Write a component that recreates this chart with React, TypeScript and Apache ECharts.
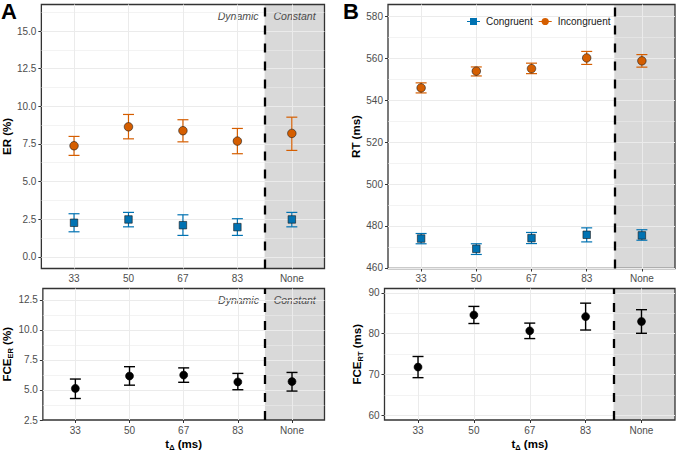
import React, { useEffect, useRef } from 'react';
import * as echarts from 'echarts';

// ---- data ----
const CATEGORIES = ['33', '50', '67', '83', 'None'];
const CAT_POS = [1, 2, 3, 4, 5];
const X_MIN = 0.4;
const X_MAX = 5.6;
const BOUNDARY = 4.5;

const ER_CONG = [2.26, 2.48, 2.1, 1.97, 2.48];
const ER_CONG_LO = [1.66, 1.99, 1.42, 1.42, 1.99];
const ER_CONG_HI = [2.86, 2.95, 2.79, 2.53, 2.95];
const ER_INC = [7.38, 8.64, 8.38, 7.69, 8.2];
const ER_INC_LO = [6.74, 7.84, 7.64, 6.85, 7.07];
const ER_INC_HI = [8.0, 9.46, 9.11, 8.53, 9.28];

const RT_CONG = [474.0, 469.1, 474.2, 475.8, 475.5];
const RT_CONG_LO = [471.5, 466.4, 471.6, 472.4, 473.2];
const RT_CONG_HI = [476.4, 471.5, 476.9, 479.1, 478.2];
const RT_INC = [545.9, 553.9, 555.1, 560.2, 558.8];
const RT_INC_LO = [543.5, 551.6, 552.7, 557.1, 555.8];
const RT_INC_HI = [548.3, 555.9, 557.7, 563.3, 561.8];

const FCE_ER = [5.13, 6.16, 6.24, 5.67, 5.7];
const FCE_ER_LO = [4.29, 5.4, 5.64, 5.02, 4.91];
const FCE_ER_HI = [5.91, 6.94, 6.84, 6.38, 6.46];

const FCE_RT = [71.8, 84.6, 80.7, 84.2, 83.0];
const FCE_RT_LO = [69.2, 82.5, 78.8, 80.9, 80.1];
const FCE_RT_HI = [74.4, 86.7, 82.6, 87.5, 85.9];

const ER_RANGE = [-0.78, 16.77];
const ER_TICKS = [0, 2.5, 5, 7.5, 10, 12.5, 15];
const ER_MINOR = [1.25, 3.75, 6.25, 8.75, 11.25, 13.75, 16.25];
const FCE_ER_RANGE = [2.5, 13.45];
const FCE_ER_TICKS = [2.5, 5, 7.5, 10, 12.5];
const FCE_ER_MINOR = [3.75, 6.25, 8.75, 11.25];
const RT_RANGE = [459.7, 585.7];
const RT_TICKS = [460, 480, 500, 520, 540, 560, 580];
const RT_MINOR = [470, 490, 510, 530, 550, 570];
const FCE_RT_RANGE = [58.8, 91.1];
const FCE_RT_TICKS = [60, 70, 80, 90];
const FCE_RT_MINOR = [65, 75, 85];

// ---- style ----
const FONT = 'Liberation Sans, Arial, Helvetica, sans-serif';
const BLUE = '#0072B2';
const ORANGE = '#D55E00';
const GRID_LINE = '#EBEBEB';
const SHADE = '#D9D9D9';
const TICK_COLOR = '#4D4D4D';

const LAYOUT = [
  { left: 38.5, top: 4.5, width: 286, height: 264 },
  { left: 41.5, top: 288.5, width: 283, height: 134 },
  { left: 388, top: 4.5, width: 287, height: 264 },
  { left: 384.5, top: 288.5, width: 290.5, height: 133 },
];

const errRender = (color: string, lw: number, half: number) => (params: any, api: any) => {
  const x = api.value(0);
  const lo = api.value(1);
  const hi = api.value(2);
  const pLo = api.coord([x, lo]);
  const pHi = api.coord([x, hi]);
  const style = { stroke: color, lineWidth: lw, fill: 'none' };
  return {
    type: 'group',
    children: [
      { type: 'line', shape: { x1: pLo[0], y1: pLo[1], x2: pHi[0], y2: pHi[1] }, style },
      { type: 'line', shape: { x1: pLo[0] - half, y1: pLo[1], x2: pLo[0] + half, y2: pLo[1] }, style },
      { type: 'line', shape: { x1: pHi[0] - half, y1: pHi[1], x2: pHi[0] + half, y2: pHi[1] }, style },
    ],
  };
};

const errData = (lo: number[], hi: number[]) => CAT_POS.map((p, i) => [p, lo[i], hi[i]]);
const ptData = (m: number[]) => CAT_POS.map((p, i) => [p, m[i]]);

function buildOption() {
  const xAxes: any[] = [];
  const yAxes: any[] = [];
  const series: any[] = [];

  const subName = (main: string, sub: string, rest: string) => `{a|${main}}{b|${sub}}{a|${rest}}`;
  const nameRich = {
    a: { fontFamily: FONT, fontWeight: 'bold', fontSize: 11.5, color: '#000', lineHeight: 15 },
    b: { fontFamily: FONT, fontWeight: 'bold', fontSize: 7.5, color: '#000', lineHeight: 8, verticalAlign: 'bottom' },
  };

  const panels = [
    { range: ER_RANGE, ticks: ER_TICKS, minor: ER_MINOR, fmt: (v: number) => v.toFixed(1), yName: '{a|ER (%)}', yGap: 23, xName: '', labels: true },
    { range: FCE_ER_RANGE, ticks: FCE_ER_TICKS, minor: FCE_ER_MINOR, fmt: (v: number) => v.toFixed(1), yName: subName('FCE', 'ER', ' (%)'), yGap: 25, xName: subName('t', 'Δ', ' (ms)'), labels: true },
    { range: RT_RANGE, ticks: RT_TICKS, minor: RT_MINOR, fmt: (v: number) => String(v), yName: '{a|RT (ms)}', yGap: 16, xName: '', labels: false },
    { range: FCE_RT_RANGE, ticks: FCE_RT_TICKS, minor: FCE_RT_MINOR, fmt: (v: number) => String(v), yName: subName('FCE', 'RT', ' (ms)'), yGap: 19, xName: subName('t', 'Δ', ' (ms)'), labels: false },
  ];

  panels.forEach((p, g) => {
    xAxes.push({
      type: 'value', gridIndex: g, min: X_MIN, max: X_MAX,
      axisLine: { show: false },
      axisTick: { show: true, customValues: CAT_POS, length: 3, lineStyle: { color: '#333', width: 1 } },
      axisLabel: {
        customValues: CAT_POS, formatter: (v: number) => CATEGORIES[Math.round(v) - 1] ?? '',
        color: TICK_COLOR, fontSize: 10, fontFamily: FONT, margin: 5,
      },
      splitLine: { show: false },
      name: p.xName, nameLocation: 'middle', nameGap: 16,
      nameTextStyle: { rich: nameRich },
    });
    yAxes.push({
      type: 'value', gridIndex: g, min: p.range[0], max: p.range[1],
      axisLine: { show: false },
      axisTick: { show: true, customValues: p.ticks, length: 3, lineStyle: { color: '#333', width: 1 } },
      axisLabel: { customValues: p.ticks, formatter: p.fmt, color: TICK_COLOR, fontSize: 10, fontFamily: FONT, margin: 5 },
      splitLine: { show: false },
      name: p.yName, nameLocation: 'middle', nameGap: p.yGap,
      nameTextStyle: { rich: nameRich },
    });

    const gridLines: any[] = [];
    p.minor.forEach((v) => gridLines.push({ yAxis: v, lineStyle: { color: GRID_LINE, width: 0.6, type: 'solid' } }));
    p.ticks.filter((v) => v > p.range[0] && v < p.range[1]).forEach((v) =>
      gridLines.push({ yAxis: v, lineStyle: { color: GRID_LINE, width: 1, type: 'solid' } }));
    CAT_POS.forEach((v) => gridLines.push({ xAxis: v, lineStyle: { color: GRID_LINE, width: 1, type: 'solid' } }));

    const areaLabel = { fontFamily: FONT, fontSize: 10.5, fontStyle: 'italic', color: TICK_COLOR, distance: 6 };
    const areas: any[] = [
      [
        { name: p.labels ? 'Constant' : '', xAxis: BOUNDARY, itemStyle: { color: SHADE }, label: { show: p.labels, position: 'insideTop', ...areaLabel } },
        { xAxis: X_MAX },
      ],
    ];
    if (p.labels) {
      areas.push([
        { name: 'Dynamic', xAxis: X_MIN, itemStyle: { color: 'rgba(0,0,0,0)' }, label: { show: true, position: 'insideTopRight', ...areaLabel } },
        { xAxis: BOUNDARY },
      ]);
    }

    series.push({
      type: 'line', name: 'bg' + g, xAxisIndex: g, yAxisIndex: g, data: [], silent: true,
      markArea: { silent: true, z: -1, data: areas },
      markLine: { silent: true, z: 1, symbol: ['none', 'none'], label: { show: false }, data: gridLines },
    });
    series.push({
      type: 'line', name: 'dash' + g, xAxisIndex: g, yAxisIndex: g, data: [], silent: true,
      markLine: {
        silent: true, z: 4, symbol: ['none', 'none'], label: { show: false },
        data: [{ xAxis: BOUNDARY, lineStyle: { color: '#000', width: 2.3, type: [9, 9] } }],
      },
    });
  });

  const addGroup = (g: number, name: string, m: number[], lo: number[], hi: number[], color: string, symbol: string, size: number, lw: number, border: string) => {
    series.push({
      type: 'custom', name: name + '-err' + g, xAxisIndex: g, yAxisIndex: g, z: 2, silent: true,
      renderItem: errRender(color, lw, 5.5), encode: { x: 0, y: [1, 2] }, data: errData(lo, hi),
    });
    series.push({
      type: 'scatter', name, xAxisIndex: g, yAxisIndex: g, z: 3, silent: true,
      symbol, symbolSize: size, data: ptData(m),
      itemStyle: { color, borderColor: border, borderWidth: 0.6, opacity: 1 },
      emphasis: { disabled: true },
    });
  };

  addGroup(0, 'Congruent', ER_CONG, ER_CONG_LO, ER_CONG_HI, BLUE, 'rect', 7.5, 1.2, '#1a1a1a');
  addGroup(0, 'Incongruent', ER_INC, ER_INC_LO, ER_INC_HI, ORANGE, 'circle', 8.5, 1.2, '#1a1a1a');
  addGroup(2, 'Congruent', RT_CONG, RT_CONG_LO, RT_CONG_HI, BLUE, 'rect', 7.5, 1.2, '#1a1a1a');
  addGroup(2, 'Incongruent', RT_INC, RT_INC_LO, RT_INC_HI, ORANGE, 'circle', 8.5, 1.2, '#1a1a1a');
  addGroup(1, 'FCE ER', FCE_ER, FCE_ER_LO, FCE_ER_HI, '#000', 'circle', 8, 1.4, '#000');
  addGroup(3, 'FCE RT', FCE_RT, FCE_RT_LO, FCE_RT_HI, '#000', 'circle', 8, 1.4, '#000');

  return {
    animation: false,
    backgroundColor: '#fff',
    textStyle: { fontFamily: FONT },
    title: [
      { text: 'A', left: 1, top: 0, padding: 0, textStyle: { fontFamily: FONT, fontSize: 22, fontWeight: 'bold', color: '#000' } },
      { text: 'B', left: 343, top: 0, padding: 0, textStyle: { fontFamily: FONT, fontSize: 22, fontWeight: 'bold', color: '#000' } },
    ],
    legend: {
      left: 467, top: 16.5, padding: 0, itemWidth: 13, itemHeight: 8, itemGap: 6, selectedMode: false,
      textStyle: { fontFamily: FONT, fontSize: 10, color: '#1A1A1A', padding: [0, 0, 0, 1] },
      itemStyle: { borderWidth: 0 },
      data: [
        { name: 'Congruent', icon: 'path://M0,3.5h3v-3h7v3h3v1h-3v3h-7v-3h-3z' },
        { name: 'Incongruent', icon: 'path://M0,3.5h2.85a3.7,3.7,0,0,1,7.3,0h2.85v1h-2.85a3.7,3.7,0,0,1,-7.3,0h-2.85z' },
      ],
    },
    grid: LAYOUT.map((l) => ({ ...l, show: true, borderColor: '#333', borderWidth: 1.3, backgroundColor: 'rgba(0,0,0,0)', containLabel: false })),
    xAxis: xAxes,
    yAxis: yAxes,
    series,
  };
}

export default function App() {
  const ref = useRef<HTMLDivElement>(null);
  useEffect(() => {
    if (!ref.current) return;
    const chart = echarts.init(ref.current, undefined, { renderer: 'svg' });
    chart.setOption(buildOption() as any);
    return () => chart.dispose();
  }, []);
  return <div ref={ref} style={{ position: 'fixed', left: 0, top: 0, width: 678, height: 452 }} />;
}
